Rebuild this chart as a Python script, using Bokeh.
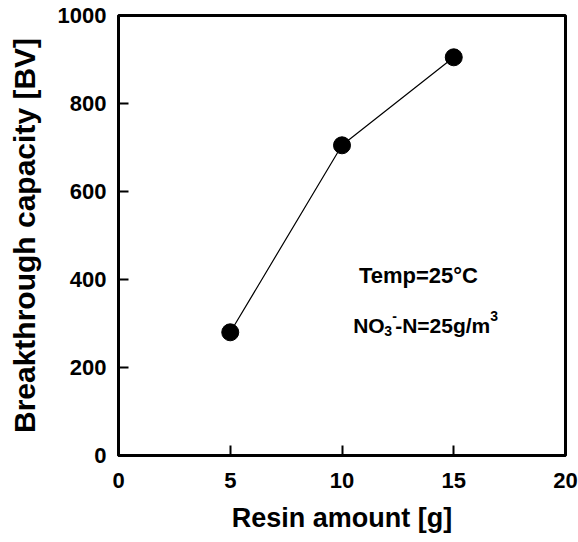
from bokeh.plotting import figure
from bokeh.models import Range1d, Label, FixedTicker
from bokeh.embed import file_html
from bokeh.resources import INLINE

# data
resin_amount = [5, 10, 15]
capacity = [280, 705, 905]
x_ticks = [0, 5, 10, 15, 20]
y_ticks = [0, 200, 400, 600, 800, 1000]

FONT = "Liberation Sans"

p = figure(width=578, height=542, output_backend="svg", toolbar_location=None,
           x_range=Range1d(0, 20), y_range=Range1d(0, 1000))
p.min_border_left = 118
p.min_border_right = 13
p.min_border_top = 15
p.min_border_bottom = 87
p.background_fill_color = "white"
p.border_fill_color = "white"
p.outline_line_color = "black"
p.outline_line_width = 3
p.grid.visible = False

p.xaxis.ticker = FixedTicker(ticks=x_ticks)
p.yaxis.ticker = FixedTicker(ticks=y_ticks)
for ax in (p.xaxis, p.yaxis):
    ax.axis_line_width = 3
    ax.axis_line_color = "black"
    ax.major_tick_in = 10
    ax.major_tick_out = 0
    ax.major_tick_line_width = 2
    ax.major_tick_line_color = "black"
    ax.minor_tick_line_color = None
    ax.major_label_text_font = FONT
    ax.major_label_text_font_style = "bold"
    ax.major_label_text_font_size = "22px"
    ax.major_label_text_color = "black"
    ax.axis_label_text_font = FONT
    ax.axis_label_text_font_style = "bold"
    ax.axis_label_text_color = "black"
p.xaxis.axis_label_text_font_size = "27px"
p.yaxis.axis_label_text_font_size = "30px"
p.xaxis.major_label_standoff = 17
p.yaxis.major_label_standoff = 12
p.xaxis.axis_label = "Resin amount [g]"
p.yaxis.axis_label = "Breakthrough capacity [BV]"
p.xaxis.axis_label_standoff = 12
p.yaxis.axis_label_standoff = 14

p.line(resin_amount, capacity, line_color="black", line_width=1.2)
p.scatter(resin_amount, capacity, size=17, fill_color="black", line_color="black")

ann_font = dict(text_font=FONT, text_font_style="bold", text_color="black")
p.add_layout(Label(x=13.42, y=409, text="Temp=25°C", text_align="center",
                   text_baseline="alphabetic", text_font_size="22px", **ann_font))
bx, by = 10.5, 296
p.add_layout(Label(x=bx, y=by, text="NO", text_baseline="alphabetic",
                   text_font_size="21px", **ann_font))
p.add_layout(Label(x=bx, y=by, x_offset=31, y_offset=-6, text="3", text_baseline="alphabetic",
                   text_font_size="14px", **ann_font))
p.add_layout(Label(x=bx, y=by, x_offset=39, y_offset=9, text="-", text_baseline="alphabetic",
                   text_font_size="14px", **ann_font))
p.add_layout(Label(x=bx, y=by, x_offset=42, text="-N=25g/m", text_baseline="alphabetic",
                   text_font_size="21px", **ann_font))
p.add_layout(Label(x=bx, y=by, x_offset=137, y_offset=9, text="3", text_baseline="alphabetic",
                   text_font_size="14px", **ann_font))

open("out.html", "w").write(file_html(p, INLINE))
